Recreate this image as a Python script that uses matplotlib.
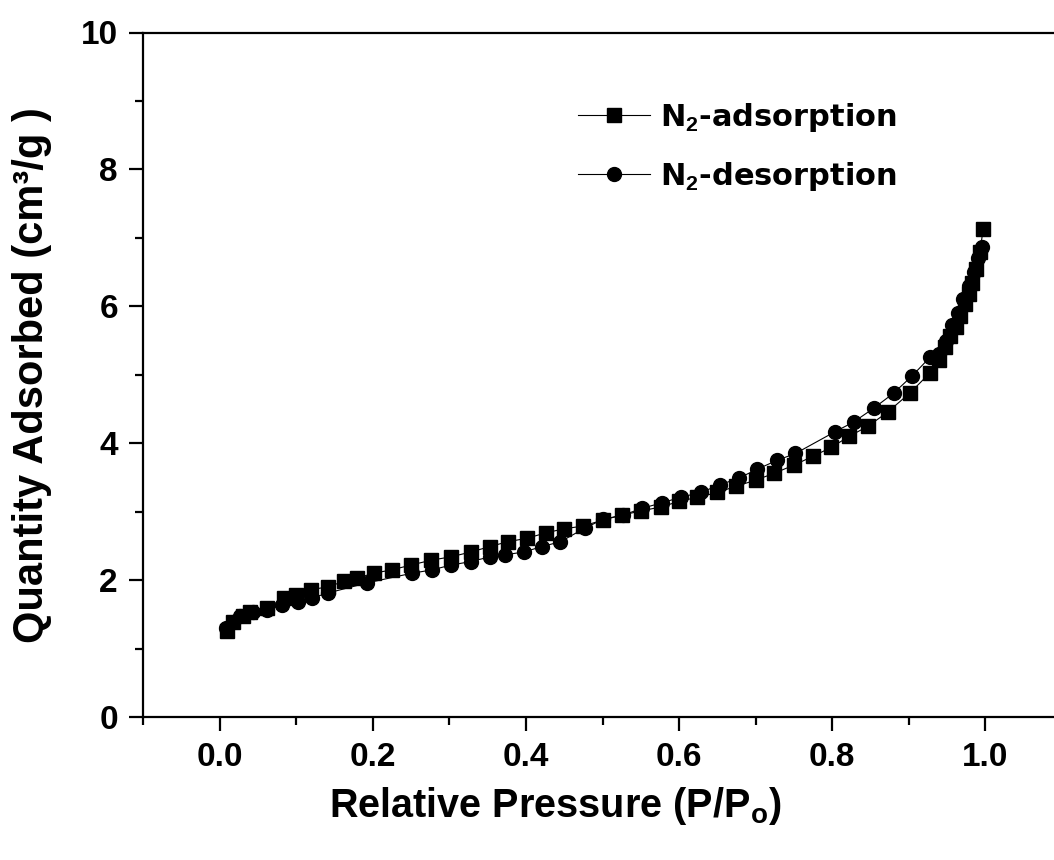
import matplotlib
matplotlib.use("Agg")
import matplotlib.pyplot as plt
from matplotlib.ticker import MultipleLocator, FormatStrFormatter

plt.rcParams['font.family'] = ['Liberation Sans', 'DejaVu Sans']
plt.rcParams['font.weight'] = 'bold'
plt.rcParams['mathtext.fontset'] = 'custom'
plt.rcParams['mathtext.rm'] = 'Liberation Sans:bold'
plt.rcParams['mathtext.bf'] = 'Liberation Sans:bold'
plt.rcParams['mathtext.it'] = 'Liberation Sans:bold'
plt.rcParams['mathtext.default'] = 'bf'

# N2 adsorption branch
ads_p = [0.010, 0.018, 0.030, 0.040, 0.062, 0.084, 0.100, 0.119, 0.141, 0.162,
         0.180, 0.201, 0.225, 0.250, 0.276, 0.302, 0.328, 0.353, 0.376, 0.401,
         0.426, 0.450, 0.475, 0.501, 0.526, 0.550, 0.577, 0.600, 0.624, 0.650,
         0.674, 0.700, 0.724, 0.750, 0.775, 0.799, 0.822, 0.847, 0.873, 0.902,
         0.927, 0.939, 0.947, 0.954, 0.961, 0.967, 0.973, 0.978, 0.983, 0.988,
         0.993, 0.997]
ads_q = [1.25, 1.39, 1.47, 1.54, 1.59, 1.74, 1.78, 1.86, 1.90, 1.98,
         2.03, 2.10, 2.15, 2.22, 2.29, 2.34, 2.41, 2.49, 2.56, 2.61,
         2.69, 2.75, 2.79, 2.88, 2.95, 3.01, 3.07, 3.15, 3.21, 3.28,
         3.37, 3.46, 3.56, 3.68, 3.81, 3.94, 4.10, 4.25, 4.46, 4.74,
         5.02, 5.22, 5.40, 5.56, 5.70, 5.86, 6.03, 6.18, 6.34, 6.55,
         6.80, 7.13]

# N2 desorption branch
des_p = [0.995, 0.990, 0.985, 0.978, 0.971, 0.964, 0.957, 0.948, 0.940, 0.928,
         0.904, 0.880, 0.854, 0.828, 0.804, 0.752, 0.728, 0.702, 0.678, 0.653,
         0.628, 0.602, 0.578, 0.552, 0.527, 0.501, 0.477, 0.445, 0.421, 0.397,
         0.373, 0.353, 0.328, 0.302, 0.278, 0.251, 0.193, 0.141, 0.121, 0.103,
         0.082, 0.062, 0.043, 0.027, 0.017, 0.008]
des_q = [6.87, 6.70, 6.50, 6.30, 6.10, 5.90, 5.72, 5.50, 5.30, 5.26,
         4.98, 4.73, 4.51, 4.31, 4.17, 3.85, 3.75, 3.62, 3.49, 3.39,
         3.28, 3.21, 3.13, 3.05, 2.95, 2.89, 2.76, 2.56, 2.49, 2.41,
         2.37, 2.34, 2.27, 2.22, 2.15, 2.10, 1.96, 1.81, 1.74, 1.68,
         1.64, 1.56, 1.54, 1.47, 1.39, 1.30]

fig = plt.figure(figsize=(10.54, 8.6), dpi=100)
ax = fig.add_axes([143 / 1054, 143 / 860, (1062 - 143) / 1054, (717 - 32.5) / 860])

ax.plot(ads_p, ads_q, color='black', lw=0.8, marker='s', ms=9.5,
        mfc='black', mec='black', label=r'N$_2$-adsorption')
ax.plot(des_p, des_q, color='black', lw=0.8, marker='o', ms=10,
        mfc='black', mec='black', label=r'N$_2$-desorption')

ax.set_xlim(-0.1, 1.1)
ax.set_ylim(0, 10)
ax.xaxis.set_major_locator(MultipleLocator(0.2))
ax.xaxis.set_minor_locator(MultipleLocator(0.1))
ax.xaxis.set_major_formatter(FormatStrFormatter('%.1f'))
ax.yaxis.set_major_locator(MultipleLocator(2))
ax.yaxis.set_minor_locator(MultipleLocator(1))

for s in ax.spines.values():
    s.set_linewidth(1.6)
ax.tick_params(which='major', direction='out', length=10, width=1.6,
               labelsize=24, pad=8)
ax.tick_params(which='minor', direction='out', length=5.5, width=1.6)
for lab in ax.get_xticklabels() + ax.get_yticklabels():
    lab.set_fontweight('bold')

ax.set_xlabel(r'Relative Pressure (P/P$_\mathbf{o}$)', fontsize=28.5,
              fontweight='bold')
ax.xaxis.set_label_coords((555 - 143) / (1062 - 143), -0.100)
ax.set_ylabel('Quantity Adsorbed (cm³/g )', fontsize=30, fontweight='bold')
ax.yaxis.set_label_coords(-0.099, 0.5)

leg = ax.legend(loc='upper left', bbox_to_anchor=(550 / 1054, 1 - 73 / 860),
                bbox_transform=fig.transFigure, frameon=False,
                prop={'family': 'DejaVu Sans', 'weight': 'bold', 'size': 22},
                handlelength=2.36, handletextpad=0.33, labelspacing=0.86)

fig.savefig('out.png', dpi=100)
